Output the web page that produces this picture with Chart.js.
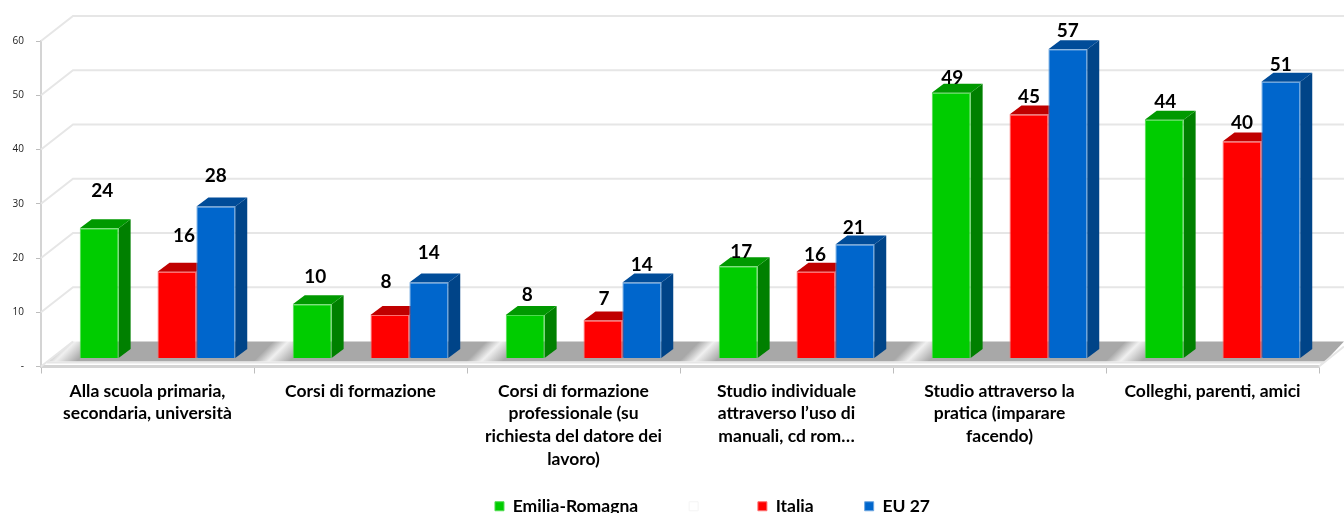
<!DOCTYPE html>
<html>
<head>
<meta charset="utf-8">
<script src="https://cdn.jsdelivr.net/npm/chart.js@4"></script>
<style>
  html, body { margin: 0; padding: 0; background: #fff; overflow: hidden; }
  canvas { display: block; }
</style>
</head>
<body>
<canvas id="learnChart" width="1344" height="525"></canvas>
<script>
const categories = [
    ['Alla scuola primaria,', 'secondaria, università'],
    ['Corsi di formazione'],
    ['Corsi di formazione', 'professionale (su', 'richiesta del datore dei', 'lavoro)'],
    ['Studio individuale', 'attraverso l’uso di', 'manuali, cd rom…'],
    ['Studio attraverso la', 'pratica (imparare', 'facendo)'],
    ['Colleghi, parenti, amici']
];
const emiliaRomagna = [24, 10, 8, 17, 49, 44];
const blankSeries = [null, null, null, null, null, null];
const italia = [16, 8, 7, 16, 45, 40];
const eu27 = [28, 14, 14, 21, 57, 51];
const yTicks = [0, 10, 20, 30, 40, 50, 60];

// how far each value label floats above its bar, as in the original
const labelLift = [
    [37, 36, 31],
    [27, 33, 30],
    [20, 22, 18],
    [14, 17, 17],
    [15, 18, 18],
    [18, 19, 17]
];
// and its sideways drift from the bar centre
const labelNudge = [
    [3, 7, 0],
    [3, -4, 0],
    [2, 1, 0],
    [3, -1, -1],
    [1, 0, 0],
    [1, 0, 0]
];

const faces = {
    green: { front: '#00cc00', edge: '#4fdc4f', side: '#008000', top: '#009900' },
    blank: { front: '#ffffff', edge: '#f4f4f4', side: '#ffffff', top: '#ffffff' },
    red: { front: '#ff0000', edge: '#ff7070', side: '#c00000', top: '#c00000' },
    blue: { front: '#0066cc', edge: '#6aa5e0', side: '#004488', top: '#004c99' }
};

// depth of the wall behind the bars and of the bars themselves
const wallDx = 32, wallDy = -25;
const barShiftX = 10, barShiftY = -8;
const barDx = 12, barDy = -9;

function drawWalls(chart) {
    const ctx = chart.ctx;
    const y = chart.scales.y;
    const { left, right } = chart.chartArea;
    const base = y.getPixelForValue(0);
    const w = right - left;

    ctx.save();
    // floor, with the pale diagonal patches
    const floorTop = base + wallDy;
    const floor = ctx.createLinearGradient(left, floorTop, left + w / 2, floorTop + w / 2);
    const n = categories.length;
    for (let i = 0; i < n; i++) {
        floor.addColorStop(i / n, '#a8a8a8');
        floor.addColorStop((i + 0.09) / n, '#a8a8a8');
        floor.addColorStop((i + 0.16) / n, '#f0f0f0');
        floor.addColorStop((i + 0.26) / n, '#a8a8a8');
    }
    floor.addColorStop(1, '#a8a8a8');
    ctx.fillStyle = floor;
    ctx.beginPath();
    ctx.moveTo(left + 7, base - 5);
    ctx.lineTo(left + wallDx, floorTop);
    ctx.lineTo(right + 25, floorTop);
    ctx.lineTo(right + 6, base - 5);
    ctx.closePath();
    ctx.fill();

    // wall gridlines
    ctx.strokeStyle = '#e6e6e6';
    ctx.lineWidth = 2;
    yTicks.forEach(v => {
        const py = y.getPixelForValue(v);
        ctx.beginPath();
        ctx.moveTo(left, py);
        ctx.lineTo(left + wallDx, py + wallDy);
        if (v > 0) ctx.lineTo(chart.width, py + wallDy);
        ctx.stroke();
    });
    // front lip and right edge of the floor
    ctx.beginPath();
    ctx.moveTo(left + 6, base - 4);
    ctx.lineTo(right + 5, base - 4);
    ctx.moveTo(right, base);
    ctx.lineTo(right + 25, base - 20);
    ctx.stroke();
    ctx.restore();
}

function drawBarDepth(ctx, bar, look) {
    const x0 = bar.x - bar.width / 2, x1 = bar.x + bar.width / 2;
    ctx.fillStyle = look.side;
    ctx.beginPath();
    ctx.moveTo(x1, bar.y);
    ctx.lineTo(x1 + barDx, bar.y + barDy);
    ctx.lineTo(x1 + barDx, bar.base + barDy);
    ctx.lineTo(x1, bar.base);
    ctx.closePath();
    ctx.fill();
    ctx.fillStyle = look.top;
    ctx.beginPath();
    ctx.moveTo(x0, bar.y);
    ctx.lineTo(x0 + barDx, bar.y + barDy);
    ctx.lineTo(x1 + barDx, bar.y + barDy);
    ctx.lineTo(x1, bar.y);
    ctx.closePath();
    ctx.fill();
}

const scene3d = {
    id: 'scene3d',
    afterLayout(chart) {
        // the legend sits right of centre in the original
        chart.legend.left += 106;
        // let the four line label run down past the axis box
        chart.scales.x.bottom = chart.height;
    },
    // bars are drawn here, left to right, so each one covers its neighbour's side
    beforeDatasetsDraw(chart) {
        const ctx = chart.ctx;
        drawWalls(chart);

        ctx.save();
        ctx.translate(barShiftX, barShiftY);
        chart.data.datasets.forEach((ds, i) => {
            if (ds.faces === faces.blank) return;
            const meta = chart.getDatasetMeta(i);
            meta.data.forEach(bar => drawBarDepth(ctx, bar, ds.faces));
            meta.controller.draw();
        });
        ctx.restore();

        ctx.save();
        ctx.font = 'bold 19px Lato';
        ctx.fillStyle = '#000';
        ctx.textAlign = 'center';
        ctx.textBaseline = 'middle';
        [0, 2, 3].forEach((dsIndex, s) => {
            chart.getDatasetMeta(dsIndex).data.forEach((bar, i) => {
                const value = chart.data.datasets[dsIndex].data[i];
                ctx.fillText(value, bar.x + barShiftX + labelNudge[i][s], bar.y + barShiftY - labelLift[i][s]);
            });
        });
        ctx.restore();
        return false;
    }
};

function series(label, data, look) {
    return {
        label, data,
        faces: look,
        backgroundColor: look.front,
        borderColor: look.edge,
        borderWidth: 1
    };
}

new Chart(document.getElementById('learnChart'), {
    type: 'bar',
    data: {
        labels: categories,
        datasets: [
            series('Emilia-Romagna', emiliaRomagna, faces.green),
            series('', blankSeries, faces.blank),
            series('Italia', italia, faces.red),
            series('EU 27', eu27, faces.blue)
        ]
    },
    options: {
        responsive: false,
        animation: false,
        layout: { padding: { top: 41, right: 25 } },
        datasets: { bar: { categoryPercentage: 0.73, barPercentage: 1 } },
        plugins: {
            tooltip: { enabled: false },
            legend: {
                position: 'bottom',
                labels: {
                    boxWidth: 9,
                    boxHeight: 9,
                    padding: 51,
                    color: '#000',
                    font: { family: 'Lato', size: 17.5, weight: 'bold' }
                }
            }
        },
        scales: {
            x: {
                grid: { drawOnChartArea: false, drawTicks: true, tickLength: 7, color: '#bdbdbd', lineWidth: 1 },
                border: { color: '#d4d4d4', width: 3 },
                afterFit(scale) { scale.height = 80; },
                ticks: {
                    maxRotation: 0,
                    autoSkip: false,
                    padding: 6,
                    color: '#000',
                    font: { family: 'Lato', size: 17.5, weight: 'bold', lineHeight: 1.3 }
                }
            },
            y: {
                min: 0,
                max: 60,
                afterBuildTicks(scale) { scale.ticks = yTicks.map(value => ({ value })); },
                afterFit(scale) { scale.width = 41; },
                grid: { drawOnChartArea: false, tickLength: 5, color: '#bdbdbd' },
                border: { color: '#d4d4d4', width: 2 },
                ticks: {
                    padding: 12,
                    color: '#222',
                    font: { family: 'Open Sans', size: 10 },
                    callback: v => (v === 0 ? '-' : v)
                }
            }
        }
    },
    plugins: [scene3d]
});
</script>
</body>
</html>
